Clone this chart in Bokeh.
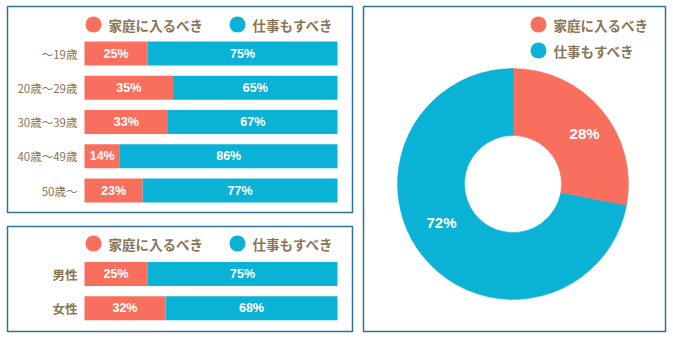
import math
from bokeh.plotting import figure
from bokeh.models import Range1d, ColumnDataSource
from bokeh.layouts import row, column
from bokeh.embed import file_html
from bokeh.resources import INLINE
from bokeh.core.properties import value

# ---- data ----
series_names = ["家庭に入るべき", "仕事もすべき"]
age_groups = ["〜19歳", "20歳〜29歳", "30歳〜39歳", "40歳〜49歳", "50歳〜"]
age_home = [25, 35, 33, 14, 23]
age_work = [75, 65, 67, 86, 77]
sexes = ["男性", "女性"]
sex_home = [25, 32]
sex_work = [75, 68]
total_shares = [28, 72]

# ---- style ----
CORAL = "#f96f5d"
BLUE = "#0ab2d6"
BROWN = "#8a7657"
BORDER = "#2e7393"
FONT = value("Noto Sans CJK JP")
NUMFONT = value("Liberation Sans")
PAD = 2
COLORS = [CORAL, BLUE]


def panel(w, h, xr, yr):
    p = figure(width=w + 2 * PAD, height=h + 2 * PAD, x_range=xr, y_range=yr,
               x_axis_type=None, y_axis_type=None, toolbar_location=None,
               output_backend="svg", min_border=PAD,
               outline_line_color=BORDER, outline_line_width=1.5,
               background_fill_color="white", border_fill_color="white")
    return p


def bar_panel(frame_h, cats, home, work, first_center, legend_py, cat_bold, cat_size):
    W = 345
    bar_left = 77
    bar_w = 253
    pitch = 34.25

    def xs(px):
        return (px - bar_left) / bar_w * 100

    def ys(py):
        return (py - first_center) / pitch

    p = panel(W, frame_h, Range1d(xs(0), xs(W)), Range1d(ys(frame_h), ys(0)))
    src = ColumnDataSource(dict(
        y=list(range(len(cats))), cat=cats, home=home,
        total=[h + w for h, w in zip(home, work)],
        home_mid=[h / 2 for h in home],
        work_mid=[h + w / 2 for h, w in zip(home, work)],
        home_lbl=[f"{h}%" for h in home],
        work_lbl=[f"{w}%" for w in work],
    ))
    p.hbar(y="y", left=0, right="home", height=0.7, fill_color=CORAL, line_color=None, source=src)
    p.hbar(y="y", left="home", right="total", height=0.7, fill_color=BLUE, line_color=None, source=src)
    for xcol, tcol in (("home_mid", "home_lbl"), ("work_mid", "work_lbl")):
        p.text(x=xcol, y="y", text=tcol, source=src, text_color="white",
               text_font=NUMFONT, text_font_size="12.5px", text_font_style="bold",
               text_align="center", text_baseline="middle")
    p.text(x=xs(70), y="y", text="cat", source=src, text_color=BROWN,
           text_font=FONT, text_font_size=cat_size,
           text_font_style="bold" if cat_bold else "normal",
           text_align="right", text_baseline="middle")
    ly = ys(legend_py)
    p.scatter(x=[xs(86), xs(230)], y=[ly, ly], size=16, color=COLORS, line_color=None)
    p.text(x=[xs(101), xs(245)], y=[ly, ly], text=series_names, text_color=BROWN,
           text_font=FONT, text_font_size="13.5px", text_font_style="bold",
           text_align="left", text_baseline="middle")
    return p


p1 = bar_panel(206, age_groups, age_home, age_work, 47, 18, False, "11.5px")
p2 = bar_panel(105, sexes, sex_home, sex_work, 47.5, 17, True, "12.5px")

# ---- donut ----
W3, H3 = 302, 325
cx, cy = 149.5, 177.5
p3 = panel(W3, H3, Range1d(-cx, W3 - cx), Range1d(-(H3 - cy), cy))
cum = 0
starts, ends, lx, ly, lbl = [], [], [], [], []
r_in, r_out = 48.5, 115.5
for s in total_shares:
    a0 = math.pi / 2 - cum / 100 * 2 * math.pi
    a1 = math.pi / 2 - (cum + s) / 100 * 2 * math.pi
    starts.append(a0)
    ends.append(a1)
    mid = (a0 + a1) / 2 - math.radians(8)
    r = 84
    lx.append(r * math.cos(mid))
    ly.append(r * math.sin(mid))
    lbl.append(f"{s}%")
    cum += s
dsrc = ColumnDataSource(dict(start=starts, end=ends, color=COLORS, lx=lx, ly=ly, lbl=lbl))
p3.annular_wedge(x=0, y=0, inner_radius=r_in, outer_radius=r_out, start_angle="start",
                 end_angle="end", direction="clock", fill_color="color", line_color="color",
                 line_width=0.5, source=dsrc)
p3.text(x="lx", y="ly", text="lbl", source=dsrc, text_color="white", text_font=NUMFONT,
        text_font_size="15px", text_font_style="bold", text_align="center",
        text_baseline="middle", y_offset=-6)
p3.scatter(x=[25.5, 25.5], y=[159.5, 133.5], size=16, color=COLORS, line_color=None)
p3.text(x=[40.5, 40.5], y=[159.5, 133.5], text=series_names, text_color=BROWN,
        text_font=FONT, text_font_size="13.5px", text_font_style="bold",
        text_align="left", text_baseline="middle")

layout = row(column(p1, p2, spacing=10), p3, spacing=7, margin=(4, 0, 0, 5))

open("out.html", "w").write(file_html(layout, INLINE))
